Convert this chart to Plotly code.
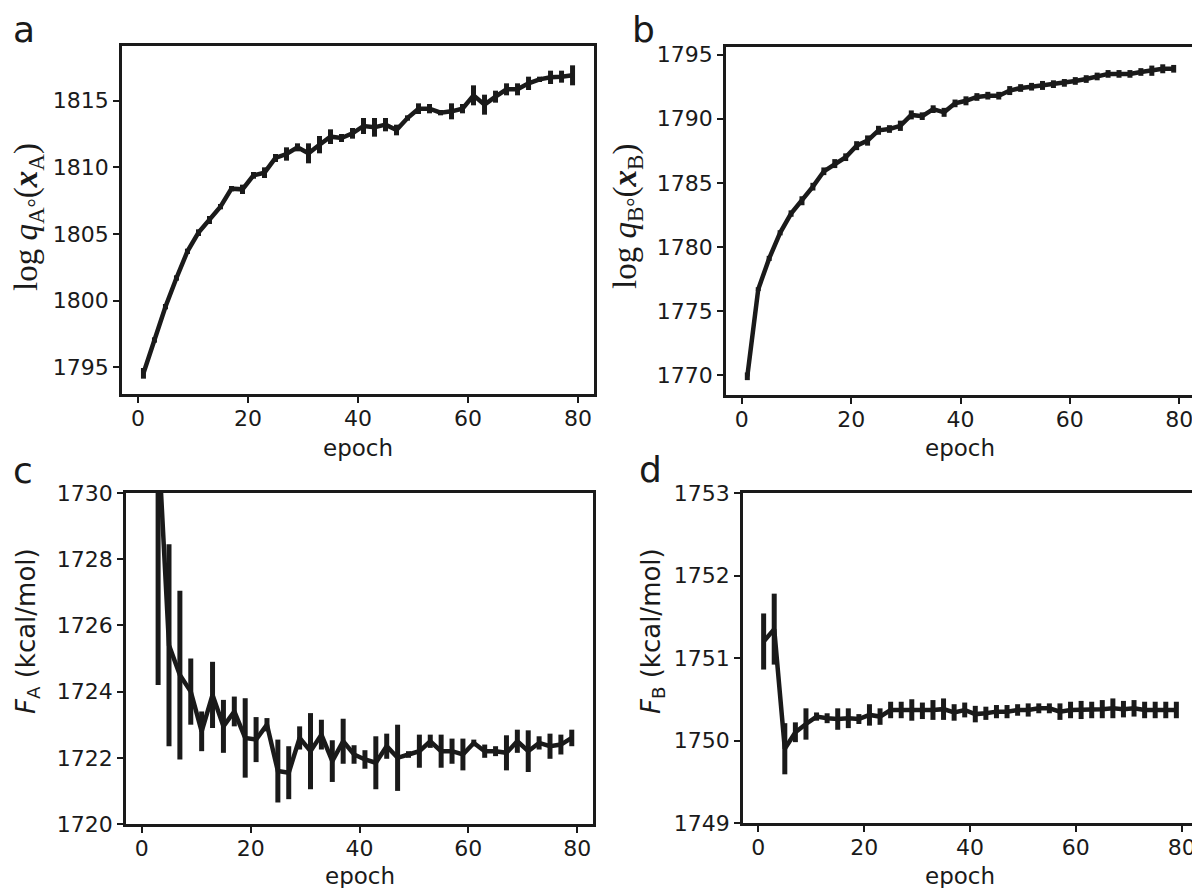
import plotly.graph_objects as go

epochs = list(range(1, 80, 2))

logq_A = [1794.55, 1797.05, 1799.55, 1801.7, 1803.7, 1805.1, 1806.05, 1807.05, 1808.4, 1808.35,
          1809.4, 1809.6, 1810.7, 1811.0, 1811.5, 1811.05, 1811.7, 1812.3, 1812.2, 1812.55,
          1813.1, 1813.0, 1813.2, 1812.8, 1813.7, 1814.4, 1814.4, 1814.1, 1814.2, 1814.4,
          1815.4, 1814.7, 1815.3, 1815.85, 1815.85, 1816.3, 1816.6, 1816.75, 1816.8, 1816.9]
logq_A_err = [0.4, 0.2, 0.2, 0.2, 0.2, 0.25, 0.3, 0.2, 0.2, 0.35,
              0.25, 0.4, 0.3, 0.5, 0.3, 0.75, 0.65, 0.55, 0.3, 0.4,
              0.6, 0.7, 0.5, 0.4, 0.2, 0.4, 0.35, 0.2, 0.6, 0.35,
              0.75, 0.75, 0.45, 0.45, 0.45, 0.5, 0.2, 0.5, 0.45, 0.75]

logq_B = [1769.9, 1776.7, 1779.1, 1781.1, 1782.6, 1783.6, 1784.7, 1785.9, 1786.5, 1787.0,
          1787.9, 1788.3, 1789.1, 1789.2, 1789.45, 1790.3, 1790.2, 1790.75, 1790.5, 1791.2,
          1791.4, 1791.7, 1791.8, 1791.8, 1792.2, 1792.4, 1792.5, 1792.6, 1792.7, 1792.8,
          1792.95, 1793.1, 1793.3, 1793.5, 1793.5, 1793.5, 1793.65, 1793.75, 1793.9, 1793.9]
logq_B_err = [0.3, 0.15, 0.2, 0.2, 0.25, 0.35, 0.3, 0.3, 0.35, 0.3,
              0.35, 0.4, 0.35, 0.3, 0.4, 0.35, 0.3, 0.3, 0.35, 0.3,
              0.35, 0.3, 0.3, 0.3, 0.35, 0.3, 0.3, 0.35, 0.3, 0.3,
              0.3, 0.3, 0.3, 0.3, 0.3, 0.3, 0.3, 0.4, 0.35, 0.3]

F_A = [1745.0, 1731.7, 1725.4, 1724.5, 1724.0, 1722.8, 1723.9, 1722.95, 1723.4, 1722.6,
       1722.55, 1723.0, 1721.6, 1721.55, 1722.6, 1722.2, 1722.7, 1721.9, 1722.5, 1722.1,
       1721.95, 1721.85, 1722.35, 1722.0, 1722.1, 1722.2, 1722.5, 1722.2, 1722.2, 1722.1,
       1722.45, 1722.2, 1722.2, 1722.15, 1722.5, 1722.2, 1722.45, 1722.35, 1722.4, 1722.6]
F_A_err = [5.0, 7.5, 3.05, 2.55, 1.0, 0.6, 1.0, 0.8, 0.45, 1.2,
           0.68, 0.2, 0.95, 0.8, 0.35, 1.15, 0.45, 0.63, 0.68, 0.28,
           0.28, 0.8, 0.38, 1.0, 0.1, 0.5, 0.2, 0.5, 0.38, 0.48,
           0.1, 0.2, 0.15, 0.53, 0.35, 0.63, 0.2, 0.38, 0.3, 0.25]

F_B = [1751.2, 1751.35, 1749.9, 1750.1, 1750.2, 1750.29, 1750.27, 1750.26, 1750.27, 1750.26,
       1750.31, 1750.29, 1750.37, 1750.37, 1750.37, 1750.36, 1750.37, 1750.38, 1750.34, 1750.37,
       1750.32, 1750.33, 1750.35, 1750.35, 1750.37, 1750.37, 1750.39, 1750.39, 1750.35, 1750.37,
       1750.37, 1750.37, 1750.38, 1750.39, 1750.38, 1750.39, 1750.37, 1750.37, 1750.37, 1750.37]
F_B_err = [0.34, 0.43, 0.31, 0.12, 0.19, 0.05, 0.06, 0.13, 0.12, 0.06,
           0.13, 0.1, 0.1, 0.1, 0.13, 0.1, 0.12, 0.13, 0.1, 0.09,
           0.1, 0.08, 0.08, 0.08, 0.07, 0.08, 0.06, 0.06, 0.1, 0.1,
           0.11, 0.1, 0.11, 0.12, 0.1, 0.1, 0.1, 0.1, 0.1, 0.1]

x_ticks = [0, 20, 40, 60, 80]
yticks_a = [1795, 1800, 1805, 1810, 1815]
yticks_b = [1770, 1775, 1780, 1785, 1790, 1795]
yticks_c = [1720, 1722, 1724, 1726, 1728, 1730]
yticks_d = [1749, 1750, 1751, 1752, 1753]

INK = "#1a1a1a"
FONT = "DejaVu Sans"
W, H = 1200, 888
OFF = 8  # page body margin

fig = go.Figure()

series = [(logq_A, logq_A_err), (logq_B, logq_B_err), (F_A, F_A_err), (F_B, F_B_err)]
for i, (vals, errs) in enumerate(series):
    sfx = "" if i == 0 else str(i + 1)
    fig.add_trace(go.Scatter(
        x=epochs, y=vals, mode="lines",
        line=dict(color=INK, width=4.5),
        error_y=dict(type="data", array=errs, visible=True, thickness=5, width=0, color=INK),
        xaxis="x" + sfx, yaxis="y" + sfx, showlegend=False, hoverinfo="skip",
    ))

# screen pixel boxes (left, top, right, bottom)
boxes = [(122, 46, 594, 394), (726, 47, 1195, 395), (126, 493, 593, 824), (743, 493, 1197, 823)]
yranges = [[1793.0, 1819.1], [1768.44, 1795.6], [1720, 1730], [1749, 1753]]
yticks = [yticks_a, yticks_b, yticks_c, yticks_d]

axis_common = dict(
    showgrid=False, zeroline=False, showline=True, linecolor=INK, linewidth=2.5,
    mirror=True, ticks="outside", ticklen=6, tickwidth=2, tickcolor=INK,
    tickfont=dict(family=FONT, size=22, color=INK), automargin=False,
)

layout = dict(
    width=W, height=H, margin=dict(l=0, r=0, t=0, b=0, autoexpand=False),
    paper_bgcolor="white", plot_bgcolor="white", showlegend=False,
    template="none",
)
for i, (l, t, r, b) in enumerate(boxes):
    sfx = "" if i == 0 else str(i + 1)
    l, t, r, b = l - OFF, t - OFF, r - OFF, b - OFF
    layout["xaxis" + sfx] = dict(
        domain=[l / W, r / W], range=[-2.9, 82.9], tickvals=x_ticks,
        anchor="y" + sfx, ticklabelstandoff=-3, **axis_common)
    layout["yaxis" + sfx] = dict(
        domain=[1 - b / H, 1 - t / H], range=yranges[i], tickvals=yticks[i],
        anchor="x" + sfx, **axis_common)
fig.update_layout(**layout)

def ann(text, x, y, size, family=FONT, angle=0):
    x, y = x - OFF, y - OFF
    fig.add_annotation(text=text, x=x / W, y=1 - y / H, xref="paper", yref="paper",
                       showarrow=False, textangle=angle, xanchor="center", yanchor="middle",
                       font=dict(family=family, size=size, color=INK))

# x titles
ann("epoch", 358, 448, 23)
ann("epoch", 960, 448, 23)
ann("epoch", 360, 876, 23)
ann("epoch", 960, 876, 23)

# y titles
ann("log <i>q</i><sub>A°</sub>(<b><i>x</i></b><sub>A</sub>)", 29, 217, 33, "Liberation Serif", -90)
ann("log <i>q</i><sub>B°</sub>(<b><i>x</i></b><sub>B</sub>)", 628, 217, 33, "Liberation Serif", -90)
ann("<i>F</i><sub>A</sub> (kcal/mol)", 27, 631, 26, FONT, -90)
ann("<i>F</i><sub>B</sub> (kcal/mol)", 652, 631, 26, FONT, -90)

# panel letters
ann("a", 24, 30, 36)
ann("b", 643, 30, 36)
ann("c", 23, 470, 36)
ann("d", 650, 469, 36)

fig.write_html("out.html")
